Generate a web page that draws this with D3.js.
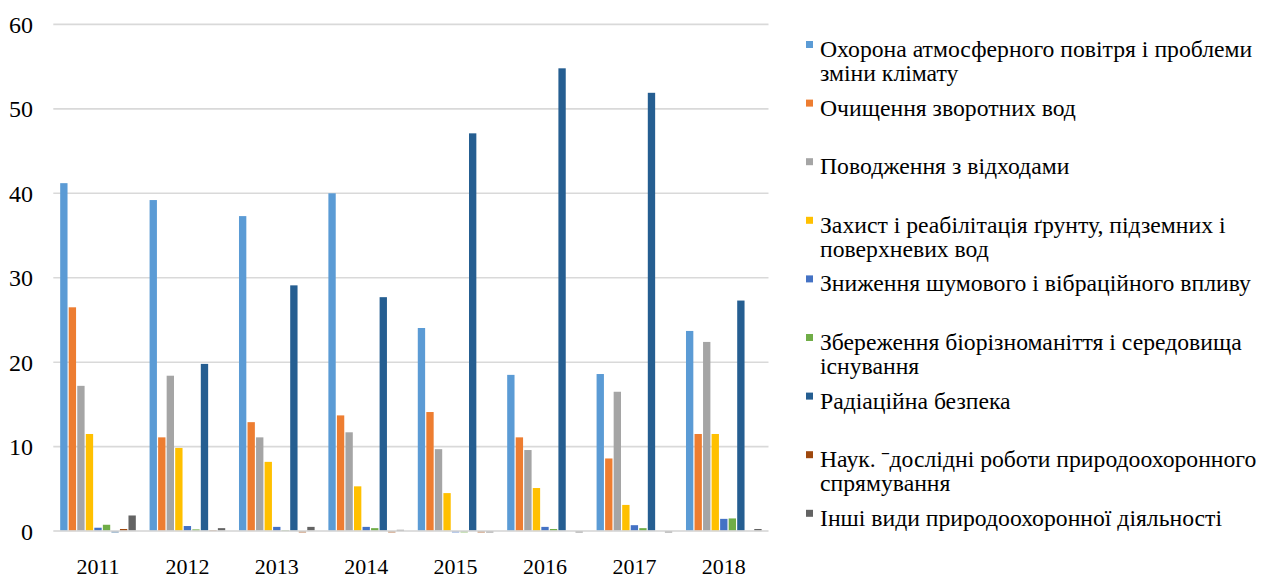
<!DOCTYPE html>
<html>
<head>
<meta charset="utf-8">
<script src="https://cdn.jsdelivr.net/npm/d3@7"></script>
<style>
  html, body { margin: 0; padding: 0; background: #ffffff; }
  svg { display: block; }
  svg text { font-family: 'Liberation Serif', 'Times New Roman', Times, serif !important; fill: #000; }
</style>
</head>
<body>
<svg id="chart" width="1277" height="578"></svg>
<script>
const years = ["2011", "2012", "2013", "2014", "2015", "2016", "2017", "2018"];

const seriesNames = [
  "Охорона атмосферного повітря і проблеми зміни клімату",
  "Очищення зворотних вод",
  "Поводження з відходами",
  "Захист і реабілітація ґрунту, підземних і поверхневих вод",
  "Зниження шумового і вібраційного впливу",
  "Збереження біорізноманіття і середовища існування",
  "Радіаційна безпека",
  "Наук. ‑дослідні роботи природоохоронного спрямування",
  "Інші види природоохоронної діяльності"
];

const legendLines = [
  ["Охорона атмосферного повітря і проблеми", "зміни клімату"],
  ["Очищення зворотних вод"],
  ["Поводження з відходами"],
  ["Захист і реабілітація ґрунту, підземних і", "поверхневих вод"],
  ["Зниження шумового і вібраційного впливу"],
  ["Збереження біорізноманіття і середовища", "існування"],
  ["Радіаційна безпека"],
  ["Наук.  ˉдослідні роботи природоохоронного", "спрямування"],
  ["Інші види природоохоронної діяльності"]
];

const airProtection   = [41.2, 39.2, 37.3, 40.0, 24.05, 18.5, 18.6, 23.7];
const wastewater      = [26.5, 11.1, 12.9, 13.7, 14.1, 11.1, 8.6, 11.5];
const wasteManagement = [17.2, 18.4, 11.1, 11.7, 9.7, 9.6, 16.5, 22.4];
const soilWater       = [11.5, 9.85, 8.2, 5.3, 4.5, 5.1, 3.1, 11.5];
const noise           = [0.4, 0.6, 0.5, 0.5, -0.15, 0.5, 0.7, 1.45];
const biodiversity    = [0.75, 0.2, 0.1, 0.35, -0.15, 0.25, 0.35, 1.5];
const radiation       = [-0.15, 19.8, 29.1, 27.7, 47.1, 54.8, 51.9, 27.3];
const research        = [0.25, 0.1, -0.15, -0.15, -0.15, 0, 0, 0];
const other           = [1.85, 0.35, 0.5, 0.15, -0.15, -0.15, -0.15, 0.25];

const seriesValues = [airProtection, wastewater, wasteManagement, soilWater, noise,
                      biodiversity, radiation, research, other];

const yTicks = [0, 10, 20, 30, 40, 50, 60];

const colors = ["#5B9BD5", "#ED7D31", "#A5A5A5", "#FFC000", "#4472C4",
                "#70AD47", "#255E91", "#9E480E", "#636363"];

const FONT = "'Liberation Serif', 'Times New Roman', Times, serif";

const svg = d3.select("#chart");

const plot = { left: 53.3, right: 768.5, top: 24.4, bottom: 531.1 };

const y = d3.scaleLinear().domain([0, 60]).range([plot.bottom, plot.top]);
const x0 = d3.scaleBand().domain(years).range([plot.left, plot.right]).padding(0);
const bw = x0.bandwidth();
const x1 = d3.scaleBand().domain(d3.range(seriesNames.length))
  .range([bw * 0.077, bw * 0.923]).paddingInner(0.14);

// gridlines
svg.append("g").selectAll("line")
  .data(yTicks.filter(t => t !== 0))
  .join("line")
  .attr("x1", plot.left).attr("x2", plot.right)
  .attr("y1", d => y(d)).attr("y2", d => y(d))
  .attr("stroke", "#d9d9d9").attr("stroke-width", 1.6);

// bars
const groups = svg.append("g").selectAll("g")
  .data(years)
  .join("g")
  .attr("transform", d => `translate(${x0(d)},0)`);

groups.selectAll("rect")
  .data((yr, yi) => seriesValues.map((vals, si) => ({ si, v: vals[yi] })))
  .join("rect")
  .attr("x", d => x1(d.si))
  .attr("width", x1.bandwidth())
  .attr("y", d => y(Math.max(0, d.v)))
  .attr("height", d => Math.abs(y(d.v) - y(0)))
  .attr("fill", d => colors[d.si]);

// zero axis line (on top, semi-transparent like the reference)
svg.append("line")
  .attr("x1", plot.left).attr("x2", plot.right)
  .attr("y1", y(0)).attr("y2", y(0))
  .attr("stroke", "#d9d9d9").attr("stroke-width", 2).attr("opacity", 0.85);

// y axis labels
const yAxis = d3.axisLeft(y).tickValues(yTicks).tickSize(0).tickPadding(0);
const yG = svg.append("g").attr("transform", "translate(33,0)").call(yAxis);
yG.attr("font-family", null).attr("font-size", null);
yG.select(".domain").remove();
yG.selectAll("text")
  .style("font-family", FONT)
  .style("font-size", "24px").attr("fill", "#000")
  .attr("dy", "0.33em");

// x axis labels
const xAxis = d3.axisBottom(x0).tickSize(0).tickPadding(0);
const xG = svg.append("g").attr("transform", `translate(0,${plot.bottom})`).call(xAxis);
xG.attr("font-family", null).attr("font-size", null);
xG.select(".domain").remove();
xG.selectAll("text")
  .style("font-family", FONT)
  .style("font-size", "22px").attr("fill", "#000")
  .attr("y", 42.5).attr("dy", 0);

// legend
const legend = svg.append("g").attr("transform", "translate(806,0)");
const items = legend.selectAll("g")
  .data(legendLines)
  .join("g")
  .attr("transform", (d, i) => `translate(0,${57 + i * 58.6})`);

items.append("rect")
  .attr("x", 0).attr("y", -16).attr("width", 7).attr("height", 7)
  .attr("fill", (d, i) => colors[i]);

items.append("text")
  .attr("x", 14)
  .style("font-family", FONT)
  .style("font-size", "23.7px")
  .selectAll("tspan")
  .data(d => d)
  .join("tspan")
  .attr("x", 14)
  .attr("dy", (d, j) => j === 0 ? 0 : 24)
  .text(d => d);
</script>
</body>
</html>
